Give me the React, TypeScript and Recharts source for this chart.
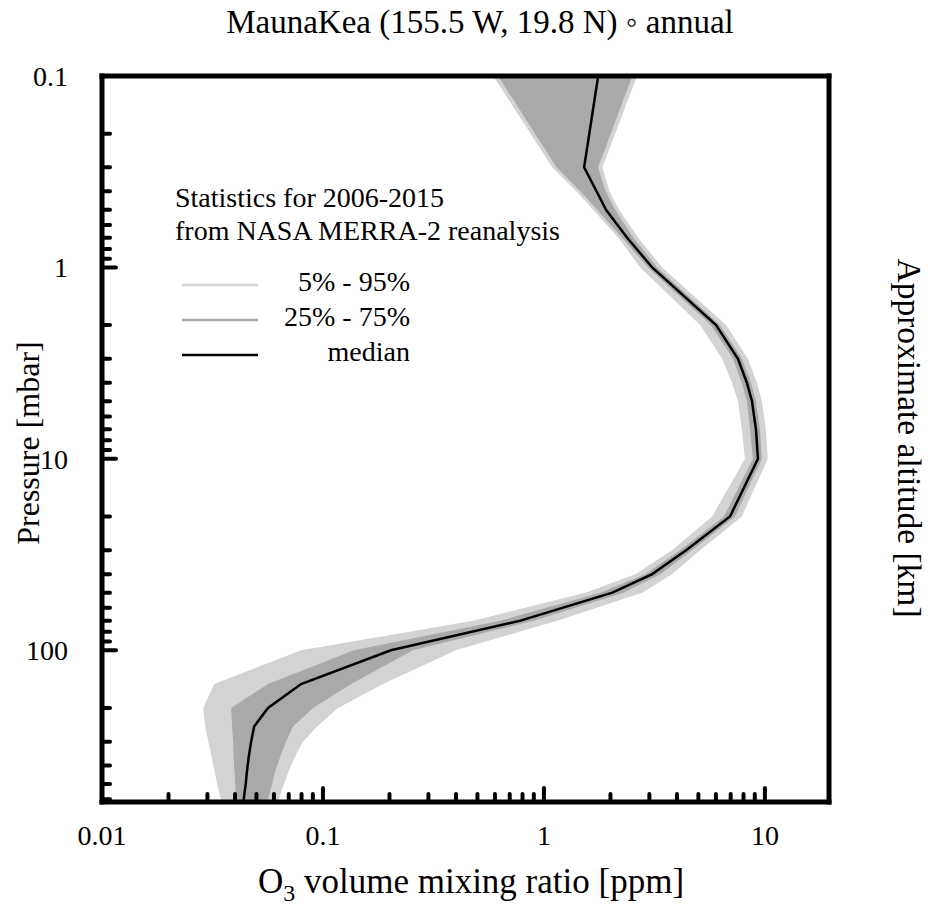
import { Area, ComposedChart, Label, Legend, Line, XAxis, YAxis } from 'recharts'

const FONT = '"Liberation Serif", Tinos, "Times New Roman", "DejaVu Serif", serif'

// MERRA-2 pressure levels [mbar], top of the plot down to the ground at the site
const pressure = [0.1, 0.3, 0.4, 0.5, 0.7, 1, 2, 3, 4, 5, 7, 10, 20, 30, 40, 50, 70, 100, 150, 200, 250, 300, 350, 400, 450, 500, 550, 600, 620]

// O3 volume mixing ratio [ppm] at each level
const p05 = [0.59, 1.09, 1.4, 1.67, 2.17, 2.73, 5.09, 6.4, 7.1, 7.55, 7.87, 8.12, 5.77, 3.8, 2.59, 1.54, 0.48, 0.0796, 0.0322, 0.0287, 0.0293, 0.0303, 0.0312, 0.0319, 0.0326, 0.0332, 0.0339, 0.0345, 0.0346]
const p25 = [0.62, 1.14, 1.46, 1.74, 2.26, 2.96, 5.7, 7.17, 7.87, 8.29, 8.56, 8.83, 6.53, 4.13, 2.87, 1.8, 0.636, 0.138, 0.0564, 0.0384, 0.0388, 0.0392, 0.0394, 0.0396, 0.0399, 0.0401, 0.0403, 0.0405, 0.0405]
const median = [1.76, 1.52, 1.73, 1.91, 2.38, 3.09, 6.01, 7.55, 8.29, 8.74, 9.11, 9.3, 6.95, 4.4, 3.09, 2.04, 0.783, 0.203, 0.0796, 0.0564, 0.0488, 0.0473, 0.0463, 0.0456, 0.0451, 0.0447, 0.0442, 0.0438, 0.0435]
const p75 = [2.51, 1.76, 1.9, 2.1, 2.54, 3.25, 6.26, 7.87, 8.65, 9.11, 9.49, 9.69, 7.32, 4.68, 3.36, 2.29, 0.897, 0.255, 0.134, 0.0902, 0.0732, 0.0681, 0.0646, 0.062, 0.0601, 0.0589, 0.0576, 0.0564, 0.0559]
const p95 = [2.64, 1.84, 1.98, 2.19, 2.67, 3.43, 6.67, 8.38, 9.2, 9.69, 10.1, 10.3, 7.87, 5.09, 3.8, 2.78, 1.15, 0.399, 0.187, 0.117, 0.094, 0.0812, 0.0755, 0.0717, 0.0688, 0.0667, 0.0646, 0.0633, 0.0626]

// axis ticks
const xMajor = [0.01, 0.1, 1, 10]
const xMinor = [0.02, 0.03, 0.04, 0.05, 0.06, 0.07, 0.08, 0.09, 0.2, 0.3, 0.4, 0.5, 0.6, 0.7, 0.8, 0.9, 2, 3, 4, 5, 6, 7, 8, 9]
const yMajor = [0.1, 1, 10, 100]
const yMinor = [0.2, 0.3, 0.4, 0.5, 0.6, 0.7, 0.8, 0.9, 2, 3, 4, 5, 6, 7, 8, 9, 20, 30, 40, 50, 60, 70, 80, 90, 200, 300, 400, 500, 600]
const altTicks = [0.1, 1, 10, 100, 620]
const altLabels = ['64', '48', '31', '17', '4.1']

const legendNames = ['5% - 95%', '25% - 75%', 'median']

const X_DOMAIN = [0.01, 19.5]
const P_DOMAIN = [0.1, 620]

const data = pressure.map((p, i) => ({
  p,
  outer: [p05[i], p95[i]],
  inner: [p25[i], p75[i]],
  median: median[i],
}))

const xTicks = [...xMajor, ...xMinor].sort((a, b) => a - b)
const yTicks = [...yMajor, ...yMinor].sort((a, b) => a - b)

const tickStyle = { stroke: '#000', strokeWidth: 4, strokeLinecap: 'round' as const }
const frame = { stroke: '#000', strokeWidth: 5, strokeLinecap: 'square' as const }
const txt = { fontFamily: FONT, fill: '#000' }

function BottomTick({ x, y, payload }: any) {
  const major = xMajor.includes(payload.value)
  return (
    <g>
      <line x1={x} x2={x} y1={y} y2={y - (major ? 14 : 8)} {...tickStyle} />
      {major && (
        <text x={x} y={y + 43} textAnchor="middle" fontSize={28} style={txt}>
          {String(payload.value)}
        </text>
      )}
    </g>
  )
}

function TopTick({ x, y, payload }: any) {
  const major = xMajor.includes(payload.value)
  return <line x1={x} x2={x} y1={y} y2={y + (major ? 14 : 8)} {...tickStyle} />
}

function LeftTick({ x, y, payload }: any) {
  const major = yMajor.includes(payload.value)
  return (
    <g>
      <line x1={x} x2={x + (major ? 14 : 8)} y1={y} y2={y} {...tickStyle} />
      {major && (
        <text x={x - 34} y={y + 10} textAnchor="end" fontSize={28} style={txt}>
          {String(payload.value)}
        </text>
      )}
    </g>
  )
}

function RightTick({ x, y, index }: any) {
  const inner = index > 0 && index < altTicks.length - 1
  return (
    <g>
      {inner && <line x1={x} x2={x - 14} y1={y} y2={y} {...tickStyle} />}
      <text x={x + 16} y={y + 10} textAnchor="start" fontSize={28} style={txt}>
        {altLabels[index]}
      </text>
    </g>
  )
}

function StatsLegend({ payload }: any) {
  const items = payload ?? []
  return (
    <svg width={928} height={912} style={{ display: 'block' }}>
      <text x={175} y={207} fontSize={28} style={txt}>Statistics for 2006-2015</text>
      <text x={175} y={240} fontSize={28} style={txt}>from NASA MERRA-2 reanalysis</text>
      {legendNames.map((name, i) => {
        const item = items.find((it: any) => it.value === name)
        if (!item) return null
        const cy = 281 + i * 35
        return (
          <g key={name}>
            {item.type === 'line' ? (
              <line x1={182} x2={258} y1={cy + 4} y2={cy + 4} stroke={item.color} strokeWidth={2.5} />
            ) : (
              <rect x={182} y={cy - 9} width={76} height={18} fill={item.color} />
            )}
            <text x={410} y={cy + 10} textAnchor="end" fontSize={28} style={txt}>
              {name}
            </text>
          </g>
        )
      })}
    </svg>
  )
}

export default function App() {
  return (
    <div style={{ position: 'absolute', left: 0, top: 0, width: 928, height: 912, background: '#fff' }}>
      <ComposedChart width={928} height={912} data={data} layout="vertical" margin={{ top: 0, right: 0, bottom: 0, left: 0 }}>
        <XAxis
          xAxisId="bottom"
          orientation="bottom"
          type="number"
          scale="log"
          domain={X_DOMAIN}
          ticks={xTicks}
          interval={0}
          height={110}
          tickSize={0}
          tickMargin={0}
          tickLine={false}
          axisLine={frame}
          tick={BottomTick}
        >
          <Label
            content={() => (
              <text x={471} y={893} textAnchor="middle" fontSize={35} style={txt}>
                O<tspan fontSize={24} dy={8}>3</tspan>
                <tspan dy={-8}> volume mixing ratio [ppm]</tspan>
              </text>
            )}
          />
        </XAxis>
        <XAxis
          xAxisId="top"
          orientation="top"
          type="number"
          scale="log"
          domain={X_DOMAIN}
          ticks={xTicks}
          interval={0}
          height={76}
          tickSize={0}
          tickMargin={0}
          tickLine={false}
          axisLine={frame}
          tick={TopTick}
        >
          <Label
            content={() => (
              <text x={480} y={33} textAnchor="middle" fontSize={33} style={txt}>
                MaunaKea (155.5 W, 19.8 N) ◦ annual
              </text>
            )}
          />
        </XAxis>
        <YAxis
          yAxisId="left"
          orientation="left"
          dataKey="p"
          type="number"
          scale="log"
          domain={P_DOMAIN}
          ticks={yTicks}
          interval={0}
          width={102}
          tickSize={0}
          tickMargin={0}
          tickLine={false}
          axisLine={frame}
          tick={LeftTick}
        >
          <Label
            content={() => (
              <text
                x={28}
                y={443}
                transform="rotate(-90, 28, 443)"
                textAnchor="middle"
                dominantBaseline="central"
                fontSize={32}
                style={txt}
              >
                Pressure [mbar]
              </text>
            )}
          />
        </YAxis>
        <YAxis
          yAxisId="right"
          orientation="right"
          type="number"
          scale="log"
          domain={P_DOMAIN}
          allowDataOverflow
          ticks={altTicks}
          interval={0}
          width={99}
          tickSize={0}
          tickMargin={0}
          tickLine={false}
          axisLine={frame}
          tick={RightTick}
        >
          <Label
            content={() => (
              <text
                x={909}
                y={438}
                transform="rotate(90, 909, 438)"
                textAnchor="middle"
                dominantBaseline="central"
                fontSize={33.5}
                style={txt}
              >
                Approximate altitude [km]
              </text>
            )}
          />
        </YAxis>
        <Area
          xAxisId="bottom"
          yAxisId="left"
          dataKey="outer"
          name="5% - 95%"
          type="linear"
          fill="#d3d3d3"
          fillOpacity={1}
          stroke="none"
          isAnimationActive={false}
        />
        <Area
          xAxisId="bottom"
          yAxisId="left"
          dataKey="inner"
          name="25% - 75%"
          type="linear"
          fill="#a9a9a9"
          fillOpacity={1}
          stroke="none"
          isAnimationActive={false}
        />
        <Line
          xAxisId="bottom"
          yAxisId="left"
          dataKey="median"
          name="median"
          type="linear"
          stroke="#000"
          strokeWidth={2.5}
          dot={false}
          legendType="line"
          isAnimationActive={false}
        />
        <Legend
          layout="horizontal"
          verticalAlign="middle"
          align="center"
          content={StatsLegend}
          wrapperStyle={{ position: 'absolute', left: 0, top: 0, width: 928, height: 912, pointerEvents: 'none' }}
        />
      </ComposedChart>
    </div>
  )
}
